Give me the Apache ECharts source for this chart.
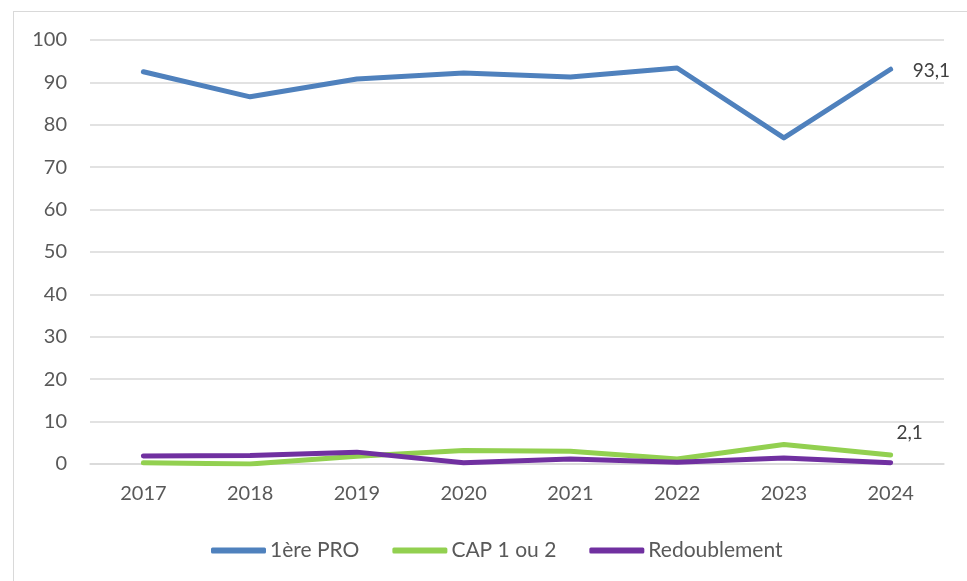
<!DOCTYPE html>
<html>
<head>
<meta charset="utf-8">
<script src="https://cdn.jsdelivr.net/npm/echarts@6/dist/echarts.min.js"></script>
<style>
  html, body { margin: 0; padding: 0; background: #fff; }
  .frame {
    position: absolute; left: 13px; top: 11px;
    width: 970px; height: 590px;
    border: 1px solid #d9d9d9;
    box-sizing: border-box;
  }
  #chart { position: absolute; left: 0; top: 0; width: 967px; height: 581px; }
</style>
</head>
<body>
<div class="frame"></div>
<div id="chart"></div>
<script>
// données
const annees = ['2017', '2018', '2019', '2020', '2021', '2022', '2023', '2024']
const premierePro = [92.5, 86.6, 90.8, 92.2, 91.3, 93.4, 76.9, 93.1]
const cap = [0.3, 0.0, 1.8, 3.2, 3.0, 1.2, 4.6, 2.1]
const redoublement = [1.9, 2.0, 2.8, 0.3, 1.2, 0.4, 1.4, 0.3]

const police = 'Lato, "Open Sans", sans-serif'

// étiquette seulement sur le dernier point
const derniereEtiquette = (offset) => ({
  show: true,
  color: '#404040',
  fontSize: 19,
  fontFamily: police,
  formatter: (p) => p.dataIndex === annees.length - 1 ? String(p.value).replace('.', ',') : '',
  ...offset,
})

const chart = echarts.init(document.getElementById('chart'))
chart.setOption({
  animation: false,
  color: ['#4f81bd', '#92d050', '#7030a0'],
  grid: { left: 90, right: 23, top: 40, bottom: 117 },
  legend: {
    top: 535,
    left: 206,
    itemWidth: 55,
    itemHeight: 6,
    itemGap: 33,
    icon: 'roundRect',
    textStyle: { color: '#595959', fontSize: 21, fontFamily: police, padding: [0, 0, 0, -1] },
    data: ['1ère PRO', 'CAP 1 ou 2', 'Redoublement'],
  },
  xAxis: {
    type: 'category',
    data: annees,
    axisTick: { show: false },
    axisLine: { lineStyle: { color: '#d9d9d9', width: 1.5 } },
    axisLabel: { color: '#595959', fontSize: 20, fontFamily: police, margin: 20 },
  },
  yAxis: {
    type: 'value',
    min: 0,
    max: 100,
    interval: 10,
    axisLabel: { color: '#595959', fontSize: 20, fontFamily: police, margin: 23 },
    splitLine: { lineStyle: { color: '#d9d9d9', width: 1.5 } },
  },
  series: [
    {
      name: '1ère PRO',
      type: 'line',
      data: premierePro,
      symbol: 'circle',
      symbolSize: 0,
      lineStyle: { width: 5, cap: 'round', join: 'round' },
      label: derniereEtiquette({ position: 'right', distance: 22, offset: [0, 2] }),
    },
    {
      name: 'CAP 1 ou 2',
      type: 'line',
      data: cap,
      symbol: 'circle',
      symbolSize: 0,
      lineStyle: { width: 5, cap: 'round', join: 'round' },
      label: derniereEtiquette({ position: 'top', offset: [19, -8] }),
    },
    {
      name: 'Redoublement',
      type: 'line',
      data: redoublement,
      symbol: 'none',
      lineStyle: { width: 5, cap: 'round', join: 'round' },
      label: { show: false },
    },
  ],
})
</script>
</body>
</html>
